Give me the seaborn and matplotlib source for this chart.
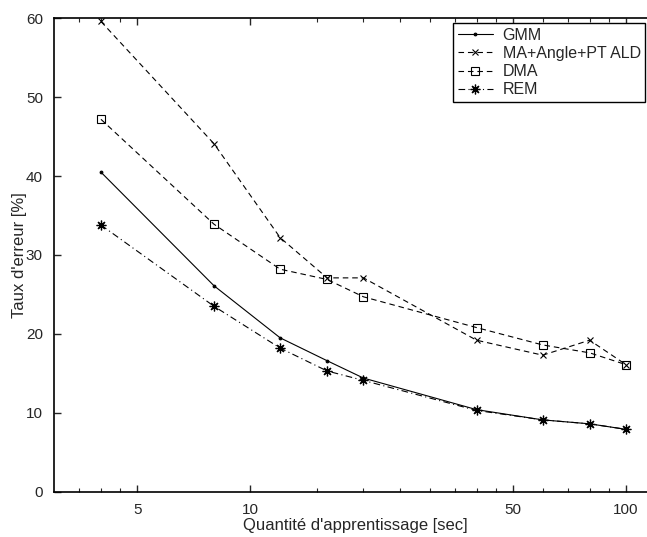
import numpy as np
import pandas as pd
import seaborn as sns
import matplotlib.pyplot as plt
from matplotlib.ticker import FixedLocator, NullFormatter

# Données
duree = [4, 8, 12, 16, 20, 40, 60, 80, 100]
gmm = [40.5, 26.1, 19.5, 16.6, 14.4, 10.4, 9.1, 8.6, 7.9]
ma_angle = [59.6, 44.1, 32.2, 27.1, 27.1, 19.2, 17.3, 19.2, 16.1]
dma = [47.2, 33.9, 28.2, 26.9, 24.7, 20.8, 18.6, 17.6, 16.1]
rem = [33.8, 23.5, 18.2, 15.3, 14.1, 10.3, 9.1, 8.6, 7.9]

noms = ['GMM', 'MA+Angle+PT ALD', 'DMA', 'REM']
x_ticks = [5, 10, 50, 100]
x_minor = [3.5, 4, 4.5, 15, 20, 25, 30, 35, 40, 45, 60, 70, 80, 90]
y_ticks = [0, 10, 20, 30, 40, 50, 60]

sns.set_style('ticks')
plt.rcParams['font.family'] = ['Liberation Sans', 'DejaVu Sans']

fig = plt.figure(figsize=(6.47, 5.37), dpi=100)
ax = fig.add_axes([0.0835, 0.0844, 0.930, 0.8815])

styles = [
    dict(linestyle='-', marker='.', markersize=4),
    dict(linestyle=(0, (5, 3.5)), marker='x', markersize=5, markeredgewidth=0.8),
    dict(linestyle=(0, (5, 3.5)), marker='s', markersize=6, markerfacecolor='none', markeredgewidth=0.8),
    dict(linestyle=(0, (6, 3, 1, 3)), marker=(8, 2, 0), markersize=7, markeredgewidth=0.9),
]
for nom, serie, st in zip(noms, [gmm, ma_angle, dma, rem], styles):
    sns.lineplot(x=duree, y=serie, ax=ax, color='black', linewidth=0.8,
                 markeredgecolor='black', label=nom, **st)

ax.set_xscale('log')
ax.set_xlim(3, 120)
ax.set_ylim(0, 60)
ax.set_xticks(x_ticks)
ax.set_xticklabels([str(t) for t in x_ticks])
ax.xaxis.set_minor_locator(FixedLocator(x_minor))
ax.xaxis.set_minor_formatter(NullFormatter())
ax.set_yticks(y_ticks)

ax.tick_params(axis='both', which='major', direction='in', length=5, width=1,
               labelsize=11, top=True, right=True)
ax.tick_params(axis='x', which='major', pad=8)
ax.tick_params(axis='y', which='major', pad=8)
ax.tick_params(axis='x', which='minor', direction='in', length=3, width=0.8, top=True)
for s in ax.spines.values():
    s.set_linewidth(1.2)
    s.set_color('black')

ax.set_xlabel("Quantité d'apprentissage [sec]", fontsize=12, labelpad=1)
ax.set_ylabel("Taux d'erreur [%]", fontsize=12, labelpad=-1)

leg = ax.legend(loc='upper left', bbox_to_anchor=(453 / 647, 1 - 23 / 537),
                bbox_transform=fig.transFigure, borderaxespad=0, fancybox=False,
                framealpha=1, edgecolor='black', fontsize=11.5, handlelength=2.2,
                handletextpad=0.6, labelspacing=0.2, borderpad=0.3)
leg.get_frame().set_linewidth(1.0)

fig.savefig('out.png', dpi=100)
